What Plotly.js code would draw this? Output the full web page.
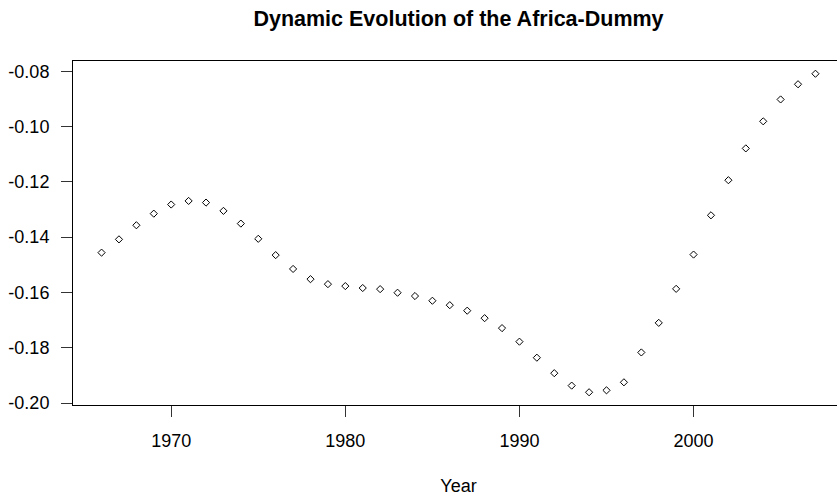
<!DOCTYPE html>
<html>
<head>
<meta charset="utf-8">
<script src="https://cdn.plot.ly/plotly-3.0.1.min.js"></script>
<style>
html, body { margin: 0; padding: 0; overflow: hidden; background: #fff; }
#chart { width: 844px; height: 497px; }
</style>
</head>
<body>
<div id="chart"></div>
<script>
const years = [1966, 1967, 1968, 1969, 1970, 1971, 1972, 1973, 1974, 1975,
               1976, 1977, 1978, 1979, 1980, 1981, 1982, 1983, 1984, 1985,
               1986, 1987, 1988, 1989, 1990, 1991, 1992, 1993, 1994, 1995,
               1996, 1997, 1998, 1999, 2000, 2001, 2002, 2003, 2004, 2005,
               2006, 2007];
const africaDummy = [-0.1456, -0.1408, -0.1357, -0.1315, -0.1282, -0.1269, -0.1275, -0.1305, -0.1351, -0.1406,
                     -0.1465, -0.1515, -0.1552, -0.1570, -0.1577, -0.1584, -0.1588, -0.1601, -0.1613, -0.1630,
                     -0.1646, -0.1666, -0.1693, -0.1729, -0.1778, -0.1836, -0.1892, -0.1937, -0.1961, -0.1954,
                     -0.1925, -0.1817, -0.1710, -0.1587, -0.1463, -0.1321, -0.1194, -0.1079, -0.0981, -0.0902,
                     -0.0847, -0.0809];
const xTicks = [1970, 1980, 1990, 2000];
const yTicks = [-0.20, -0.18, -0.16, -0.14, -0.12, -0.10, -0.08];
const yTickLabels = ["-0.20", "-0.18", "-0.16", "-0.14", "-0.12", "-0.10", "-0.08"];

// R-style 4% padding of the axis ranges
function padRange(arr) {
  const mn = Math.min(...arr), mx = Math.max(...arr);
  const p = (mx - mn) * 0.04;
  return [mn - p, mx + p];
}

const font = "Liberation Sans, Arial, sans-serif";

const trace = {
  x: years,
  y: africaDummy,
  type: "scatter",
  mode: "markers",
  marker: { symbol: "diamond-open", size: 5.5, color: "#000", line: { width: 1, color: "#000" } },
  hoverinfo: "x+y"
};

const layout = {
  width: 844,
  height: 497,
  margin: { l: 73, r: 0, t: 61, b: 92 },
  paper_bgcolor: "#fff",
  plot_bgcolor: "#fff",
  showlegend: false,
  font: { family: font, color: "#000", size: 18 },
  title: {
    text: "<b>Dynamic Evolution of the Africa-Dummy</b>",
    font: { family: font, size: 21.5, color: "#000" },
    x: 0.5, xref: "paper", xanchor: "center",
    y: 1 - 18.5 / 497, yref: "container", yanchor: "middle"
  },
  xaxis: {
    range: padRange(years),
    tickmode: "array",
    tickvals: xTicks,
    ticktext: xTicks.map(String),
    ticks: "outside",
    ticklen: 11,
    tickwidth: 1,
    tickcolor: "#333",
    showline: true,
    mirror: true,
    linecolor: "#000",
    linewidth: 1,
    showgrid: false,
    zeroline: false,
    tickfont: { family: font, size: 18, color: "#000" },
    ticklabelstandoff: 8,
    title: { text: "Year", font: { family: font, size: 18, color: "#000" }, standoff: 29 },
    automargin: false
  },
  yaxis: {
    range: padRange(africaDummy),
    tickmode: "array",
    tickvals: yTicks,
    ticktext: yTickLabels,
    ticks: "outside",
    ticklen: 11,
    tickwidth: 1,
    tickcolor: "#333",
    showline: true,
    mirror: true,
    linecolor: "#000",
    linewidth: 1,
    showgrid: false,
    zeroline: false,
    tickfont: { family: font, size: 18, color: "#000" },
    ticklabelstandoff: 8,
    automargin: false
  }
};

Plotly.newPlot("chart", [trace], layout, { staticPlot: true, displayModeBar: false });
</script>
</body>
</html>
